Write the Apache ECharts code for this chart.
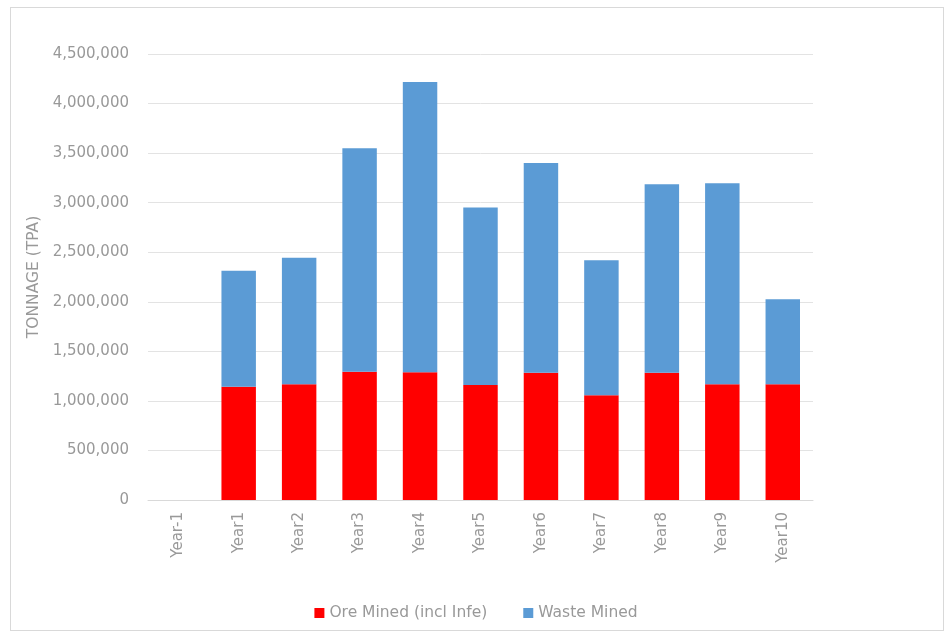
<!DOCTYPE html>
<html>
<head>
<meta charset="utf-8">
<script src="https://cdn.jsdelivr.net/npm/echarts@6/dist/echarts.min.js"></script>
<style>
html,body{margin:0;padding:0;background:#fff;}
#frame{position:absolute;left:10px;top:7px;width:934px;height:624px;border:1px solid #d9d9d9;box-sizing:border-box;}
#chart{position:absolute;left:0;top:0;width:952px;height:639px;}
</style>
</head>
<body>
<div id="frame"></div>
<div id="chart"></div>
<script>
const categories = ["Year-1","Year1","Year2","Year3","Year4","Year5","Year6","Year7","Year8","Year9","Year10"];
const oreMined = [0, 1143000, 1167000, 1295000, 1288000, 1160000, 1285000, 1056000, 1285000, 1167000, 1167000];
const wasteMined = [0, 1171000, 1278000, 2254000, 2930000, 1790000, 2115000, 1363000, 1901000, 2029000, 858000];
const seriesNames = ["Ore Mined (incl Infe)", "Waste Mined"];
const yAxisTitle = "TONNAGE (TPA)";

const chart = echarts.init(document.getElementById('chart'), null, {renderer:'canvas'});
const font = '"DejaVu Sans", sans-serif';
const txt = '#999999';
chart.setOption({
  animation:false,
  backgroundColor:'transparent',
  textStyle:{fontFamily:font},
  grid:{left:148,right:139,top:54,bottom:139,containLabel:false},
  legend:{
    top:600, left:'center',
    itemWidth:10,itemHeight:10,itemGap:36,
    icon:'rect',
    textStyle:{color:txt,fontSize:15.5,fontFamily:font},
    data:seriesNames
  },
  xAxis:{
    type:'category',
    data:categories,
    axisLine:{lineStyle:{color:'#d9d9d9'}},
    axisTick:{show:false},
    axisLabel:{rotate:90,color:txt,fontSize:15,margin:12,fontFamily:font}
  },
  yAxis:{
    type:'value',
    min:0,max:4500000,interval:500000,
    name:yAxisTitle,
    nameLocation:'middle',
    nameRotate:90,
    nameGap:106,
    nameTextStyle:{color:txt,fontSize:15.5,fontFamily:font},
    axisLine:{show:false},
    axisTick:{show:false},
    splitLine:{lineStyle:{color:'#e3e3e3'}},
    axisLabel:{color:txt,fontSize:15,margin:19,fontFamily:font,
      formatter:v=>v.toLocaleString('en-US')}
  },
  series:[
    {name:seriesNames[0],type:'bar',stack:'t',data:oreMined,barWidth:'57%',
     itemStyle:{color:'#ff0000'}},
    {name:seriesNames[1],type:'bar',stack:'t',data:wasteMined,barWidth:'57%',
     itemStyle:{color:'#5b9bd5'}}
  ]
});
</script>
</body>
</html>
